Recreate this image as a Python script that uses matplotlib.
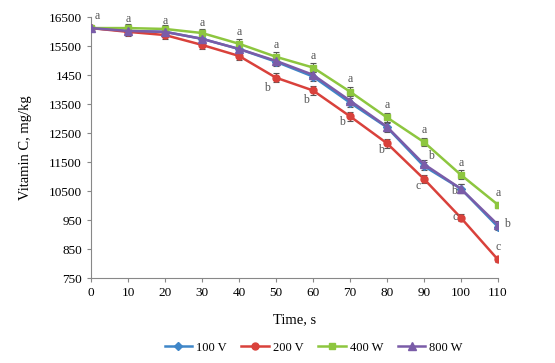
"""Vitamin C content vs treatment time for four power settings."""

import matplotlib
matplotlib.use("Agg")
import matplotlib.pyplot as plt

time_s = [0, 10, 20, 30, 40, 50, 60, 70, 80, 90, 100, 110]

vit_100v = [16120, 16020, 15990, 15750, 15400, 14960, 14450, 13550, 12700, 11360, 10580, 9270]
vit_200v = [16120, 15990, 15880, 15540, 15160, 14410, 13970, 13080, 12150, 10920, 9580, 8140]
vit_400w = [16120, 16120, 16090, 15950, 15580, 15130, 14760, 13930, 13040, 12190, 11060, 10030]
vit_800w = [16120, 16020, 15990, 15750, 15400, 14990, 14510, 13620, 12720, 11430, 10580, 9340]

err_100v = [60, 150, 150, 150, 150, 150, 150, 150, 150, 150, 150, 120]
err_200v = [60, 150, 150, 150, 150, 150, 150, 150, 150, 150, 120, 80]
err_400w = [60, 130, 130, 150, 150, 150, 150, 150, 150, 150, 150, 100]
err_800w = [60, 150, 150, 150, 150, 150, 150, 150, 150, 150, 150, 120]

ytick_vals = [16500, 15500, 14500, 13500, 12500, 11500, 10500, 9500, 8500, 7500]
ytick_labels = ["16500", "15500", "1450", "13500", "12500", "11500", "10500", "950", "850", "750"]

# significance letters: (time, value, letter)
letters = [
    (0, 16520, "a"), (10, 16450, "a"), (20, 16380, "a"), (30, 16300, "a"),
    (40, 15980, "a"), (50, 15530, "a"), (60, 15160, "a"), (70, 14350, "a"),
    (80, 13460, "a"), (90, 12600, "a"), (100, 11480, "a"), (110, 10450, "a"),
    (50, 14050, "b"), (60, 13630, "b"), (70, 12880, "b"), (80, 11900, "b"),
    (90, 11700, "b"), (100, 10500, "b"), (110, 9350, "b"),
    (90, 10670, "c"), (100, 9600, "c"), (110, 8580, "c"),
]
letter_dx = {(0, "a"): 1.6, (50, "b"): -2.3, (60, "b"): -1.8, (70, "b"): -2.2,
             (80, "b"): -1.5, (90, "b"): 2.0, (100, "b"): -1.8, (110, "b"): 2.4,
             (90, "c"): -1.6, (100, "c"): -1.6}

plt.rcParams["font.family"] = ["Liberation Serif", "DejaVu Serif"]

fig = plt.figure(figsize=(5.55, 3.63), dpi=100)
ax = fig.add_axes([0.164, 0.234, 0.733, 0.719])

series = [
    (vit_100v, err_100v, "D", "#3f86c8", "100 V", 4),
    (vit_200v, err_200v, "o", "#d9413b", "200 V", 5),
    (vit_400w, err_400w, "s", "#8dc63f", "400 W", 5),
    (vit_800w, err_800w, "^", "#7a5ca8", "800 W", 5.5),
]
for vals, errs, mk, col, lab, ms in series:
    ax.errorbar(time_s, vals, yerr=errs, fmt="none", ecolor="#555555",
                elinewidth=0.8, capsize=2.5, capthick=0.8, zorder=2)
    ax.plot(time_s, vals, marker=mk, color=col, linewidth=1.8,
            markersize=ms, label=lab, zorder=3)

for t, v, s in letters:
    ax.text(t + letter_dx.get((t, s), 0), v, s, fontsize=8.5, color="#555555",
            ha="center", va="center")

ax.set_xlim(0, 110)
ax.set_ylim(7500, 16500)
ax.set_xticks(time_s)
ax.set_yticks(ytick_vals)
ax.set_yticklabels(ytick_labels)
ax.tick_params(labelsize=9.5, colors="black", length=3, width=0.8)
for sp in ("top", "right"):
    ax.spines[sp].set_visible(False)
for sp in ("left", "bottom"):
    ax.spines[sp].set_color("#888888")
ax.tick_params(color="#888888")

ax.set_xlabel("Time, s", fontsize=10.5, labelpad=10)
ax.set_ylabel("Vitamin C, mg/kg", fontsize=10.5, labelpad=12)

fig.legend(loc="center", bbox_to_anchor=(0.565, 0.042), ncol=4,
           frameon=False, fontsize=9, handlelength=2.2, columnspacing=1.2,
           handletextpad=0.3)

fig.savefig("out.png", dpi=100)
